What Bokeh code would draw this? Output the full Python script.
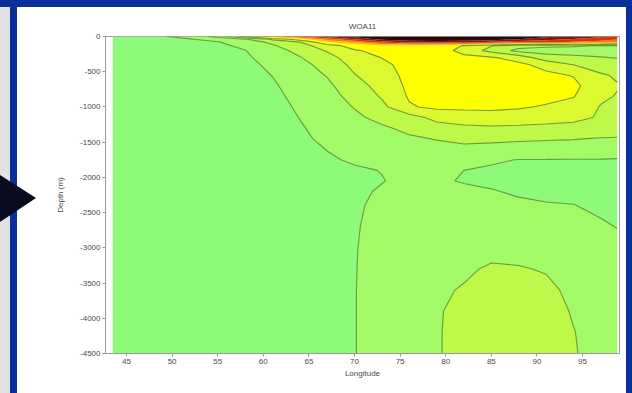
import numpy as np
from bokeh.plotting import figure
from bokeh.layouts import row, column
from bokeh.models import Div, FixedTicker
from bokeh.embed import file_html
from bokeh.resources import INLINE

# Section grid: station longitudes (deg E) and sample depths (m)
lons = [43.5, 46, 49, 52, 55, 58, 61, 64, 67, 70, 73, 76, 79, 82, 85, 88, 91, 94, 97, 98.8]
depths = [0, 40, 80, 130, 200, 300, 400, 550, 700, 850, 1000, 1150, 1300, 1450,
          1600, 1750, 1900, 2050, 2200, 2400, 2700, 3000, 3300, 3600, 3900, 4200, 4500]

# One profile per station (same order as lons), values at each depth above
profiles = [
    [0.6, 0.5, 0.5, 0.5, 0.5, 0.5, 0.5, 0.5, 0.5, 0.5, 0.5, 0.5, 0.5, 0.5, 0.5, 0.5, 0.5, 0.5, 0.5, 0.5, 0.5, 0.5, 0.5, 0.5, 0.5, 0.5, 0.5],
    [0.75, 0.55, 0.5, 0.5, 0.5, 0.5, 0.5, 0.5, 0.5, 0.5, 0.5, 0.5, 0.5, 0.5, 0.5, 0.5, 0.5, 0.5, 0.5, 0.5, 0.5, 0.5, 0.5, 0.5, 0.5, 0.5, 0.5],
    [0.95, 0.65, 0.55, 0.5, 0.5, 0.5, 0.5, 0.5, 0.5, 0.5, 0.5, 0.5, 0.5, 0.5, 0.5, 0.5, 0.5, 0.5, 0.5, 0.5, 0.5, 0.5, 0.5, 0.5, 0.5, 0.5, 0.5],
    [1.3, 0.95, 0.75, 0.65, 0.6, 0.55, 0.5, 0.5, 0.5, 0.5, 0.5, 0.5, 0.5, 0.5, 0.5, 0.5, 0.5, 0.5, 0.5, 0.5, 0.5, 0.5, 0.5, 0.5, 0.5, 0.5, 0.5],
    [2.4, 1.3, 0.95, 0.8, 0.7, 0.65, 0.6, 0.55, 0.55, 0.5, 0.5, 0.5, 0.5, 0.5, 0.5, 0.5, 0.5, 0.5, 0.5, 0.5, 0.5, 0.5, 0.5, 0.5, 0.5, 0.5, 0.5],
    [4.3, 1.9, 1.5, 1.2, 0.97, 0.85, 0.75, 0.65, 0.6, 0.55, 0.55, 0.55, 0.55, 0.55, 0.55, 0.55, 0.55, 0.55, 0.55, 0.55, 0.55, 0.55, 0.55, 0.55, 0.55, 0.55, 0.55],
    [5.8, 3.2, 2.2, 1.9, 1.65, 1.4, 1.2, 1.02, 0.88, 0.78, 0.7, 0.65, 0.62, 0.6, 0.6, 0.6, 0.6, 0.6, 0.6, 0.6, 0.6, 0.6, 0.6, 0.6, 0.6, 0.6, 0.6],
    [7.0, 4.5, 3.0, 2.55, 2.25, 1.95, 1.75, 1.55, 1.4, 1.25, 1.12, 1.02, 0.92, 0.82, 0.75, 0.7, 0.68, 0.66, 0.65, 0.65, 0.65, 0.65, 0.65, 0.65, 0.65, 0.65, 0.65],
    [8.3, 6.5, 4.8, 3.6, 3.1, 2.6, 2.3, 2.05, 1.8, 1.65, 1.5, 1.4, 1.3, 1.2, 1.02, 0.9, 0.85, 0.8, 0.8, 0.78, 0.75, 0.75, 0.75, 0.75, 0.75, 0.75, 0.75],
    [9.3, 8.0, 6.0, 4.4, 3.9, 3.6, 3.3, 2.95, 2.6, 2.3, 2.05, 1.8, 1.6, 1.4, 1.25, 1.1, 0.9, 0.85, 0.85, 0.88, 0.92, 0.95, 0.96, 0.97, 0.97, 0.97, 0.97],
    [10.2, 9.3, 7.5, 4.85, 4.3, 4.02, 3.8, 3.6, 3.35, 3.1, 2.75, 2.3, 1.85, 1.55, 1.35, 1.15, 1.02, 0.97, 1.08, 1.2, 1.3, 1.35, 1.4, 1.4, 1.4, 1.4, 1.4],
    [10.4, 9.7, 8.2, 4.9, 4.6, 4.4, 4.3, 4.25, 4.2, 4.1, 3.9, 2.6, 2.25, 1.85, 1.6, 1.4, 1.25, 1.2, 1.3, 1.45, 1.6, 1.7, 1.75, 1.8, 1.8, 1.8, 1.8],
    [10.5, 9.8, 8.4, 4.9, 4.6, 4.6, 4.7, 4.8, 4.8, 4.6, 4.2, 3.3, 2.6, 2.05, 1.7, 1.4, 1.15, 1.1, 1.2, 1.4, 1.6, 1.75, 1.85, 1.9, 1.95, 1.95, 1.95],
    [10.5, 9.8, 8.2, 3.9, 3.6, 4.3, 4.7, 4.85, 4.85, 4.75, 4.2, 3.5, 2.8, 2.2, 1.8, 1.3, 1.0, 0.95, 1.15, 1.35, 1.55, 1.75, 1.9, 2.05, 2.15, 2.2, 2.2],
    [10.3, 9.5, 7.8, 3.05, 2.7, 4.1, 4.5, 4.8, 4.85, 4.75, 4.2, 3.6, 2.85, 2.2, 1.7, 1.1, 0.9, 0.85, 1.05, 1.3, 1.55, 1.8, 2.08, 2.2, 2.3, 2.35, 2.35],
    [9.8, 9.0, 7.4, 2.4, 1.7, 3.6, 4.2, 4.6, 4.75, 4.6, 4.1, 3.55, 2.8, 2.15, 1.6, 0.98, 0.8, 0.75, 0.9, 1.15, 1.45, 1.75, 2.05, 2.25, 2.35, 2.4, 2.4],
    [9.2, 8.4, 7.2, 2.2, 1.6, 2.4, 3.7, 4.2, 4.5, 4.3, 3.9, 3.4, 2.75, 2.1, 1.55, 0.98, 0.78, 0.72, 0.85, 1.05, 1.35, 1.65, 1.95, 2.15, 2.25, 2.3, 2.3],
    [8.6, 7.9, 6.9, 2.1, 1.6, 2.2, 3.0, 3.95, 4.25, 4.05, 3.6, 3.25, 2.7, 2.05, 1.5, 0.97, 0.75, 0.7, 0.8, 1.02, 1.3, 1.55, 1.75, 1.85, 1.95, 2.02, 2.05],
    [8.2, 7.5, 6.5, 1.95, 1.6, 2.05, 2.6, 3.1, 3.3, 3.15, 2.95, 2.9, 2.5, 1.95, 1.45, 0.97, 0.72, 0.65, 0.72, 0.85, 1.1, 1.3, 1.5, 1.6, 1.7, 1.75, 1.75],
    [7.8, 7.1, 6.1, 1.95, 1.7, 1.95, 2.5, 2.9, 3.05, 2.95, 2.85, 2.7, 2.35, 1.95, 1.4, 0.95, 0.7, 0.62, 0.68, 0.8, 0.98, 1.2, 1.4, 1.5, 1.6, 1.65, 1.65],
]

levels = [0, 1, 2, 3, 4, 5, 6, 7, 8, 9, 11]
fill_colors = ["#8efa7a", "#a2fa66", "#bef94a", "#dcf82e", "#ffff00",
               "#ffc400", "#f57a00", "#d03a08", "#8a1a08", "#2a0a04"]
line_levels = [1, 2, 3, 4]

x_ticks = [45, 50, 55, 60, 65, 70, 75, 80, 85, 90, 95]
y_ticks = [0, -500, -1000, -1500, -2000, -2500, -3000, -3500, -4000, -4500]
y_tick_labels = ["0", "-500", "-1000", "-1500", "-2000", "-2500", "-3000", "-3500", "-4000", "-4500"]

# grid arrays: y as negative depth, increasing upward
x = np.array(lons, dtype=float)
y = -np.array(depths, dtype=float)[::-1]
z = np.array(profiles, dtype=float).T[::-1, :]

FONT = "Liberation Sans"
TEXT = "#4a4a4a"

p = figure(width=586, height=386, x_range=(42.7, 99.05), y_range=(-4500, 0),
           output_backend="svg", toolbar_location=None, title="WOA11",
           min_border_left=65, min_border_right=7, min_border_top=29, min_border_bottom=40,
           background_fill_color="white", border_fill_color="white")

p.contour(x, y, z, levels, fill_color=fill_colors, line_color=None)
p.contour(x, y, z, line_levels, line_color="#5a8a34", line_width=1.1, line_alpha=0.85)

p.title.align = "center"
p.title.text_font = FONT
p.title.text_font_size = "8px"
p.title.text_font_style = "normal"
p.title.text_color = TEXT
p.title.standoff = 11

p.xgrid.visible = False
p.ygrid.visible = False
p.outline_line_color = "#a0a0a0"

p.xaxis.ticker = FixedTicker(ticks=x_ticks)
p.yaxis.ticker = FixedTicker(ticks=y_ticks)
p.yaxis.major_label_overrides = {t: s for t, s in zip(y_ticks, y_tick_labels)}
p.xaxis.axis_label = "Longitude"
p.yaxis.axis_label = "Depth (m)"

for ax in (p.xaxis[0], p.yaxis[0]):
    ax.axis_line_color = "#9a9a9a"
    ax.major_tick_line_color = "#9a9a9a"
    ax.major_tick_out = 3
    ax.major_tick_in = 0
    ax.minor_tick_line_color = None
    ax.major_label_text_font = FONT
    ax.major_label_text_font_size = "8px"
    ax.major_label_text_color = TEXT
    ax.major_label_standoff = 2
    ax.axis_label_text_font = FONT
    ax.axis_label_text_font_size = "8px"
    ax.axis_label_text_font_style = "normal"
    ax.axis_label_text_color = TEXT
p.xaxis.axis_label_standoff = 2
p.yaxis.axis_label_standoff = 12

# page frame: blue top bar, grey/blue left edge with pointer arrow, blue right edge
BLUE = "#0b2f9a"
top_bar = Div(text="", width=632, height=7, margin=0,
              styles={"background-color": BLUE})
left_svg = (
    '<svg width="40" height="386" xmlns="http://www.w3.org/2000/svg" style="display:block">'
    '<rect x="0" y="0" width="10" height="386" fill="#e2e2e2"/>'
    f'<rect x="10" y="0" width="7" height="386" fill="{BLUE}"/>'
    '<rect x="17" y="0" width="23" height="386" fill="#ffffff"/>'
    '<polygon points="0,168 36,191 0,215" fill="#0b0b1f"/>'
    '</svg>'
)
left_edge = Div(text=left_svg, width=40, height=386, margin=0)
right_edge = Div(text="", width=6, height=386, margin=0,
                 styles={"background-color": BLUE})

page = column(top_bar, row(left_edge, p, right_edge, spacing=0), spacing=0)

open("out.html", "w").write(file_html(page, INLINE))
